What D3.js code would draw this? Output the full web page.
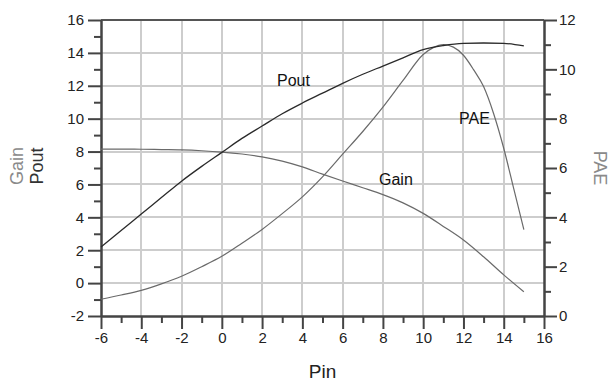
<!DOCTYPE html>
<html>
<head>
<meta charset="utf-8">
<script src="https://cdn.jsdelivr.net/npm/d3@7"></script>
<style>
  html, body { margin: 0; padding: 0; background: #fff; }
  svg { display: block; font-family: "Liberation Sans", Arial, sans-serif; }
</style>
</head>
<body>
<svg id="chart" width="610" height="383"></svg>
<script>
// Input power sweep (dBm)
const pin = [-6, -5, -4, -3, -2, -1, 0, 1, 2, 3, 4, 5, 6, 7, 8, 9, 10, 11, 12, 13, 14, 15];
// Output power (left axis)
const pout = [2.2, 3.2, 4.2, 5.2, 6.2, 7.1, 7.95, 8.8, 9.55, 10.3, 10.95, 11.55, 12.15, 12.7, 13.2, 13.7, 14.2, 14.45, 14.58, 14.6, 14.58, 14.42];
// Gain (left axis)
const gain = [8.15, 8.15, 8.14, 8.12, 8.1, 8.05, 7.97, 7.85, 7.68, 7.42, 7.07, 6.63, 6.21, 5.8, 5.38, 4.88, 4.24, 3.45, 2.62, 1.6, 0.5, -0.53];
// Power-added efficiency (right axis), finer steps near the peak
const paePin = [-6, -5, -4, -3, -2, -1, 0, 1, 2, 3, 4, 5, 6, 7, 8, 9, 10, 10.5, 11, 11.5, 12, 12.5, 13, 13.5, 14, 14.5, 15];
const pae = [0.68, 0.85, 1.04, 1.3, 1.61, 2.0, 2.42, 2.95, 3.51, 4.15, 4.83, 5.64, 6.56, 7.48, 8.47, 9.55, 10.6, 10.88, 11.0, 10.9, 10.57, 9.99, 9.3, 8.2, 6.8, 5.15, 3.5];

const xTicks = d3.range(-6, 17, 2);
const yLeftTicks = d3.range(-2, 17, 2);
const yRightTicks = d3.range(0, 13, 2);

const svg = d3.select("#chart");
const plotLeft = 101, plotRight = 544, plotTop = 20, plotBottom = 316;

const x = d3.scaleLinear().domain([-6, 16]).range([plotLeft, plotRight]);
const yL = d3.scaleLinear().domain([-2, 16]).range([plotBottom, plotTop]);
const yR = d3.scaleLinear().domain([0, 12]).range([plotBottom, plotTop]);

const axisColor = "#444";
const gridColor = "#cdcdcd";
const plain = d => String(d);  // ASCII hyphen for negatives

// Grid
const grid = svg.append("g");
grid.selectAll("line.gx").data(xTicks.filter(d => d > -6 && d < 16)).join("line")
  .attr("x1", d => Math.round(x(d))).attr("x2", d => Math.round(x(d)))
  .attr("y1", plotTop).attr("y2", plotBottom)
  .attr("stroke", gridColor).attr("stroke-width", 2);
grid.selectAll("line.gy").data(yLeftTicks.filter(d => d > -2 && d < 16)).join("line")
  .attr("y1", d => Math.round(yL(d))).attr("y2", d => Math.round(yL(d)))
  .attr("x1", plotLeft).attr("x2", plotRight)
  .attr("stroke", gridColor).attr("stroke-width", 2);

// Frame top edge
svg.append("line").attr("x1", plotLeft).attr("x2", plotRight).attr("y1", plotTop).attr("y2", plotTop)
  .attr("stroke", "#555").attr("stroke-width", 2);

function styleAxis(g) {
  g.select(".domain").attr("stroke", axisColor).attr("stroke-width", 2);
  g.selectAll(".tick line").attr("stroke", axisColor).attr("stroke-width", 2);
  g.selectAll("text").attr("fill", "#222").attr("font-size", 15)
    .attr("font-family", "'Liberation Sans', Arial, sans-serif");
}

// Minor ticks on every odd value
function minor(axisGen, vals) {
  return axisGen.tickValues(vals).tickFormat("").tickSizeOuter(0);
}

// Bottom axis
svg.append("g").attr("transform", `translate(0,${plotBottom})`)
  .call(minor(d3.axisBottom(x).tickSize(7), d3.range(-5, 16, 2)))
  .call(styleAxis);
svg.append("g").attr("transform", `translate(0,${plotBottom})`)
  .call(d3.axisBottom(x).tickValues(xTicks).tickFormat(plain).tickSize(13).tickSizeOuter(0).tickPadding(3))
  .call(styleAxis);

// Left axis
svg.append("g").attr("transform", `translate(${plotLeft},0)`)
  .call(minor(d3.axisLeft(yL).tickSize(7), d3.range(-1, 16, 2)))
  .call(styleAxis);
svg.append("g").attr("transform", `translate(${plotLeft},0)`)
  .call(d3.axisLeft(yL).tickValues(yLeftTicks).tickFormat(plain).tickSize(13).tickSizeOuter(0).tickPadding(4))
  .call(styleAxis);

// Right axis
svg.append("g").attr("transform", `translate(${plotRight},0)`)
  .call(minor(d3.axisRight(yR).tickSize(7), d3.range(1, 12, 2)))
  .call(styleAxis);
svg.append("g").attr("transform", `translate(${plotRight},0)`)
  .call(d3.axisRight(yR).tickValues(yRightTicks).tickFormat(plain).tickSize(13).tickSizeOuter(0).tickPadding(2))
  .call(styleAxis);

// Curves
const lineL = d3.line().x(d => x(d[0])).y(d => yL(d[1])).curve(d3.curveMonotoneX);
const lineR = d3.line().x(d => x(d[0])).y(d => yR(d[1])).curve(d3.curveMonotoneX);

svg.append("path").datum(d3.zip(pin, gain)).attr("d", lineL)
  .attr("fill", "none").attr("stroke", "#6a6a6a").attr("stroke-width", 1.2);
svg.append("path").datum(d3.zip(paePin, pae)).attr("d", lineR)
  .attr("fill", "none").attr("stroke", "#6a6a6a").attr("stroke-width", 1.2);
svg.append("path").datum(d3.zip(pin, pout)).attr("d", lineL)
  .attr("fill", "none").attr("stroke", "#2a2a2a").attr("stroke-width", 1.3);

// Curve labels
svg.append("text").attr("x", 277).attr("y", 86).attr("font-size", 16).attr("fill", "#111").text("Pout");
svg.append("text").attr("x", 379).attr("y", 185).attr("font-size", 16).attr("fill", "#111").text("Gain");
svg.append("text").attr("x", 459).attr("y", 124).attr("font-size", 16).attr("fill", "#111").text("PAE");

// Axis titles
svg.append("text").attr("transform", "translate(23,166) rotate(-90)")
  .attr("text-anchor", "middle").attr("font-size", 18).attr("fill", "#8a8a8a").text("Gain");
svg.append("text").attr("transform", "translate(43,166) rotate(-90)")
  .attr("text-anchor", "middle").attr("font-size", 18).attr("fill", "#333").text("Pout");
svg.append("text").attr("transform", "translate(594,168) rotate(90)")
  .attr("text-anchor", "middle").attr("font-size", 18).attr("fill", "#8a8a8a").text("PAE");
svg.append("text").attr("x", (plotLeft + plotRight) / 2).attr("y", 378)
  .attr("text-anchor", "middle").attr("font-size", 19).attr("fill", "#222").text("Pin");
</script>
</body>
</html>
